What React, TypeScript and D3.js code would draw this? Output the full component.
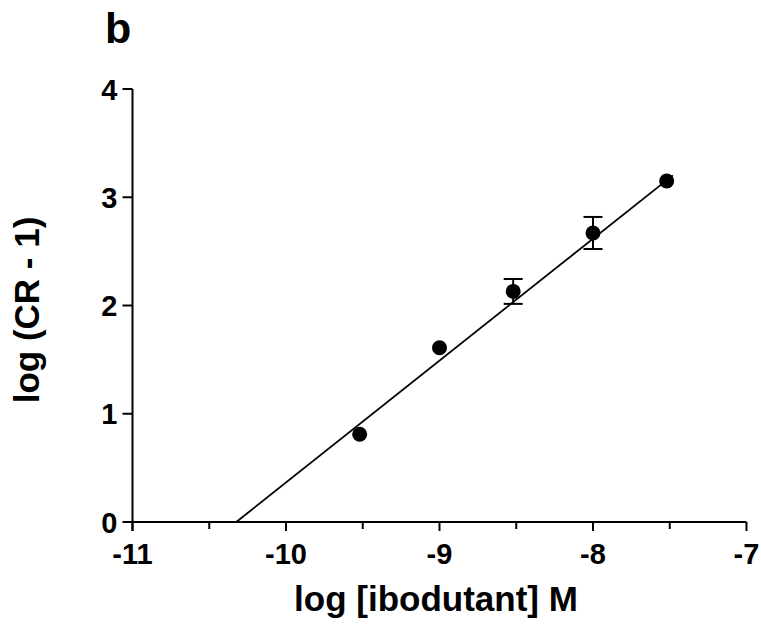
import React from "react";
import * as d3 from "d3";

const xValues = [-9.52, -9.0, -8.52, -8.0, -7.52];
const yValues = [0.81, 1.61, 2.13, 2.67, 3.15];
const yErrors = [0, 0, 0.115, 0.148, 0];
const xTicks = [-11, -10, -9, -8, -7];
const xMinorTicks = [-10.5, -9.5, -8.5, -7.5];
const yTicks = [0, 1, 2, 3, 4];
const fitSlope = 1.126;
const fitXIntercept = -10.324;
const fitXEnd = -7.48;

const W = 761;
const H = 625;
const FONT = "'Liberation Sans', Arial, sans-serif";

export default function App() {
  const x = d3.scaleLinear().domain([-11, -7]).range([132.5, 746.5]);
  const y = d3.scaleLinear().domain([0, 4]).range([522, 89]);
  const fitY = (v: number) => fitSlope * (v - fitXIntercept);
  const line = d3.line<number>().x((d) => x(d)).y((d) => y(fitY(d)));

  return (
    <svg
      width={W}
      height={H}
      style={{ position: "absolute", left: 0, top: 0, background: "#fff" }}
      fontFamily={FONT}
    >
      <text x={105} y={43} fontSize={43} fontWeight="bold">b</text>

      {/* axes */}
      <line x1={x(-11)} x2={x(-7)} y1={y(0)} y2={y(0)} stroke="#000" strokeWidth={2} />
      <line x1={x(-11)} x2={x(-11)} y1={y(4)} y2={y(0) + 9} stroke="#000" strokeWidth={2} />

      {xTicks.map((t) => (
        <g key={"xt" + t}>
          <line x1={x(t)} x2={x(t)} y1={y(0)} y2={y(0) + 9} stroke="#000" strokeWidth={2} />
          <text x={x(t)} y={y(0) + 42} fontSize={29} fontWeight="bold" textAnchor="middle">
            {t}
          </text>
        </g>
      ))}
      {xMinorTicks.map((t) => (
        <line key={"xm" + t} x1={x(t)} x2={x(t)} y1={y(0)} y2={y(0) + 7} stroke="#000" strokeWidth={2} />
      ))}
      {yTicks.map((t) => (
        <g key={"yt" + t}>
          <line x1={x(-11) - 10} x2={x(-11)} y1={y(t)} y2={y(t)} stroke="#000" strokeWidth={2} />
          <text x={x(-11) - 15} y={y(t) + 10.5} fontSize={29} fontWeight="bold" textAnchor="end">
            {t}
          </text>
        </g>
      ))}

      {/* fit line */}
      <path d={line([fitXIntercept, fitXEnd]) || ""} fill="none" stroke="#000" strokeWidth={1.8} />

      {/* error bars */}
      {xValues.map((xv, i) =>
        yErrors[i] > 0 ? (
          <g key={"e" + i} stroke="#000" strokeWidth={2}>
            <line x1={x(xv)} x2={x(xv)} y1={y(yValues[i] - yErrors[i])} y2={y(yValues[i] + yErrors[i])} />
            <line x1={x(xv) - 9.5} x2={x(xv) + 9.5} y1={y(yValues[i] + yErrors[i])} y2={y(yValues[i] + yErrors[i])} />
            <line x1={x(xv) - 9.5} x2={x(xv) + 9.5} y1={y(yValues[i] - yErrors[i])} y2={y(yValues[i] - yErrors[i])} />
          </g>
        ) : null
      )}

      {/* points */}
      {xValues.map((xv, i) => (
        <circle key={"p" + i} cx={x(xv)} cy={y(yValues[i])} r={7.5} fill="#000" />
      ))}

      {/* axis titles */}
      <text x={436} y={611} fontSize={35} fontWeight="bold" textAnchor="middle">
        log [ibodutant] M
      </text>
      <text
        transform={`translate(39, 310) rotate(-90)`}
        fontSize={35}
        fontWeight="bold"
        textAnchor="middle"
      >
        log (CR - 1)
      </text>
    </svg>
  );
}
